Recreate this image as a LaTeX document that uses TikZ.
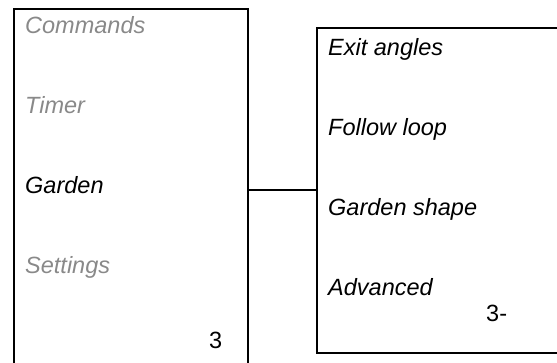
\documentclass[tikz,border=0pt]{standalone}
\usepackage{fontspec}
\setmainfont{Liberation Sans}
\definecolor{dimtext}{RGB}{137,137,137}
\tikzset{
  menubox/.style={draw=black, line width=2pt, inner sep=0pt, anchor=north west},
  item/.style={anchor=base west, inner sep=0pt, font=\itshape\fontsize{23.5}{28}\selectfont},
  dimitem/.style={item, text=dimtext},
  pagenum/.style={anchor=base west, inner sep=0pt, font=\fontsize{23.5}{28}\selectfont},
  link/.style={draw=black, line width=1.6pt}
}
\begin{document}
\begin{tikzpicture}[x=1pt,y=-1pt]
\useasboundingbox (0,0) rectangle (557,362);
\clip (0,0) rectangle (557,362);
\node[menubox, minimum width=234pt, minimum height=380pt] (L) at (13,8) {};
\node[menubox, minimum width=260pt, minimum height=324.7pt] (R) at (316,27) {};
\coordinate (mid) at (280,190);
\draw[link] (L.east |- mid) -- (R.west |- mid);
\node[dimitem] (c1) at (25,33.3) {Commands};
\node[dimitem] (c2) at (25,113.3) {Timer};
\node[item] (c3) at (25,193.3) {Garden};
\node[dimitem] (c4) at (25,273.3) {Settings};
\node[pagenum] (p1) at (209,348.5) {3};
\node[item] (r1) at (328,55) {Exit angles};
\node[item] (r2) at (328,135) {Follow loop};
\node[item] (r3) at (328,215) {Garden shape};
\node[item] (r4) at (328,295) {Advanced};
\node[pagenum] (p2) at (486,321.7) {3-};
\end{tikzpicture}
\end{document}
